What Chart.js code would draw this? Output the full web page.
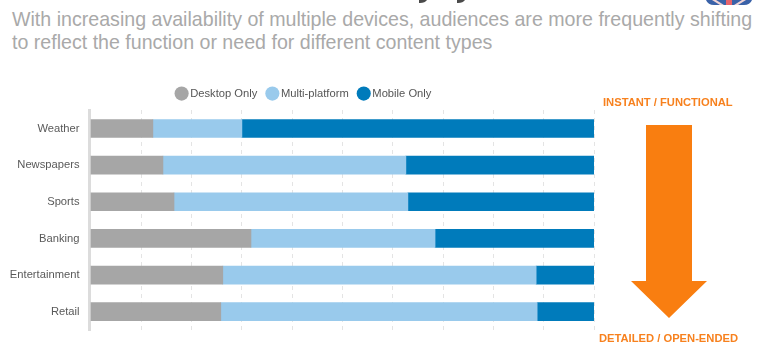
<!DOCTYPE html>
<html>
<head>
<meta charset="utf-8">
<script src="https://cdn.jsdelivr.net/npm/chart.js@4"></script>
<style>
  html, body { margin: 0; background: #fff; width: 768px; height: 350px; overflow: hidden; }
  body { position: relative; font-family: "Liberation Sans", sans-serif; }
  #subtitle { position: absolute; left: 12px; top: 8px; font-size: 19.62px; line-height: 23px; color: #a9a9a9; white-space: nowrap; }
  #chartBox { position: absolute; left: 0; top: 70px; width: 604px; height: 276px; }
  .flow { position: absolute; color: #f7811e; font-size: 11.2px; font-weight: bold; white-space: nowrap; }
  #arrow { position: absolute; left: 620px; top: 115px; }
  #flag { position: absolute; left: 706px; top: 0; }
  #cutTitle { position: absolute; left: 415px; top: 0; }
</style>
</head>
<body>
<!-- bits of the heading and flag cut off by the top edge of the screenshot -->
<svg id="cutTitle" width="60" height="4">
  <path d="M4,0 H12 Q10,3 5,3 H4 Z M42,0 H50 Q48,3 43,3 H42 Z" fill="#4a4a4a"/>
</svg>
<svg id="flag" width="46" height="5">
  <path d="M0,0 H46 Q44,5 38,5 H8 Q2,5 0,0 Z" fill="#3a62a8"/>
  <path d="M6,0 L14,5 H18 L10,0 Z M40,0 L32,5 H28 L36,0 Z" fill="#f0d4d6"/>
  <rect x="20" y="0" width="6" height="5" fill="#e8636b"/>
</svg>
<div id="subtitle">With increasing availability of multiple devices, audiences are more frequently shifting<br>to reflect the function or need for different content types</div>
<div id="chartBox"><canvas id="barChart"></canvas></div>
<div class="flow" style="left:603px;top:96px">INSTANT / FUNCTIONAL</div>
<div class="flow" style="left:599px;top:332px">DETAILED / OPEN-ENDED</div>
<svg id="arrow" width="110" height="210"><polygon points="26,10 72,10 72,166 87,166 49,203 11,166 26,166" fill="#f97e10"/></svg>
<script>
const categories = ["Weather", "Newspapers", "Sports", "Banking", "Entertainment", "Retail"];
const desktopOnly = [12.3, 14.3, 16.5, 31.8, 26.2, 25.8];
const multiPlatform = [17.7, 48.3, 46.5, 36.6, 62.3, 62.9];
const mobileOnly = [70.0, 37.4, 37.0, 31.6, 11.5, 11.3];
const xTicks = [10, 20, 30, 40, 50, 60, 70, 80, 90, 100];

const ctx = document.getElementById("barChart").getContext("2d");
new Chart(ctx, {
  type: "bar",
  data: {
    labels: categories,
    datasets: [
      { label: "Desktop Only", data: desktopOnly, backgroundColor: "#a6a6a6" },
      { label: "Multi-platform", data: multiPlatform, backgroundColor: "#99caec" },
      { label: "Mobile Only", data: mobileOnly, backgroundColor: "#007bbb" }
    ]
  },
  options: {
    indexAxis: "y",
    responsive: true,
    maintainAspectRatio: false,
    animation: false,
    barThickness: 18,
    // left padding pushes the centred legend right, the axis width below takes it back
    layout: { padding: { left: 16, right: 10, top: 6, bottom: 16 } },
    plugins: {
      tooltip: { enabled: false },
      legend: {
        position: "top",
        labels: {
          usePointStyle: true,
          pointStyle: "circle",
          boxWidth: 6,
          boxHeight: 10,
          padding: 12,
          color: "#555",
          font: { family: "Liberation Sans", size: 11.2 }
        }
      }
    },
    scales: {
      x: {
        position: "top",
        stacked: true,
        min: -0.3, // leaves room for the thick axis line left of the bars
        max: 100,
        afterBuildTicks: axis => { axis.ticks = xTicks.map(v => ({ value: v })); },
        ticks: { display: false },
        border: { display: false, dash: [4, 4] },
        grid: { color: "#e4e4e4", lineWidth: 1, drawTicks: false },
        afterFit: axis => { axis.height = 1; }
      },
      y: {
        stacked: true,
        afterFit: axis => { axis.width = 73.5; },
        ticks: { color: "#595959", padding: 2, font: { family: "Liberation Sans", size: 11.2 } },
        border: { color: "#dcdcdc", width: 3 },
        grid: { display: false }
      }
    }
  },
  plugins: [{
    // tick labels get clipped to the axis box, so open it up to the canvas edge
    id: "wideLabels",
    afterLayout(chart) { chart.scales.y.left = 0; }
  }]
});
</script>
</body>
</html>
